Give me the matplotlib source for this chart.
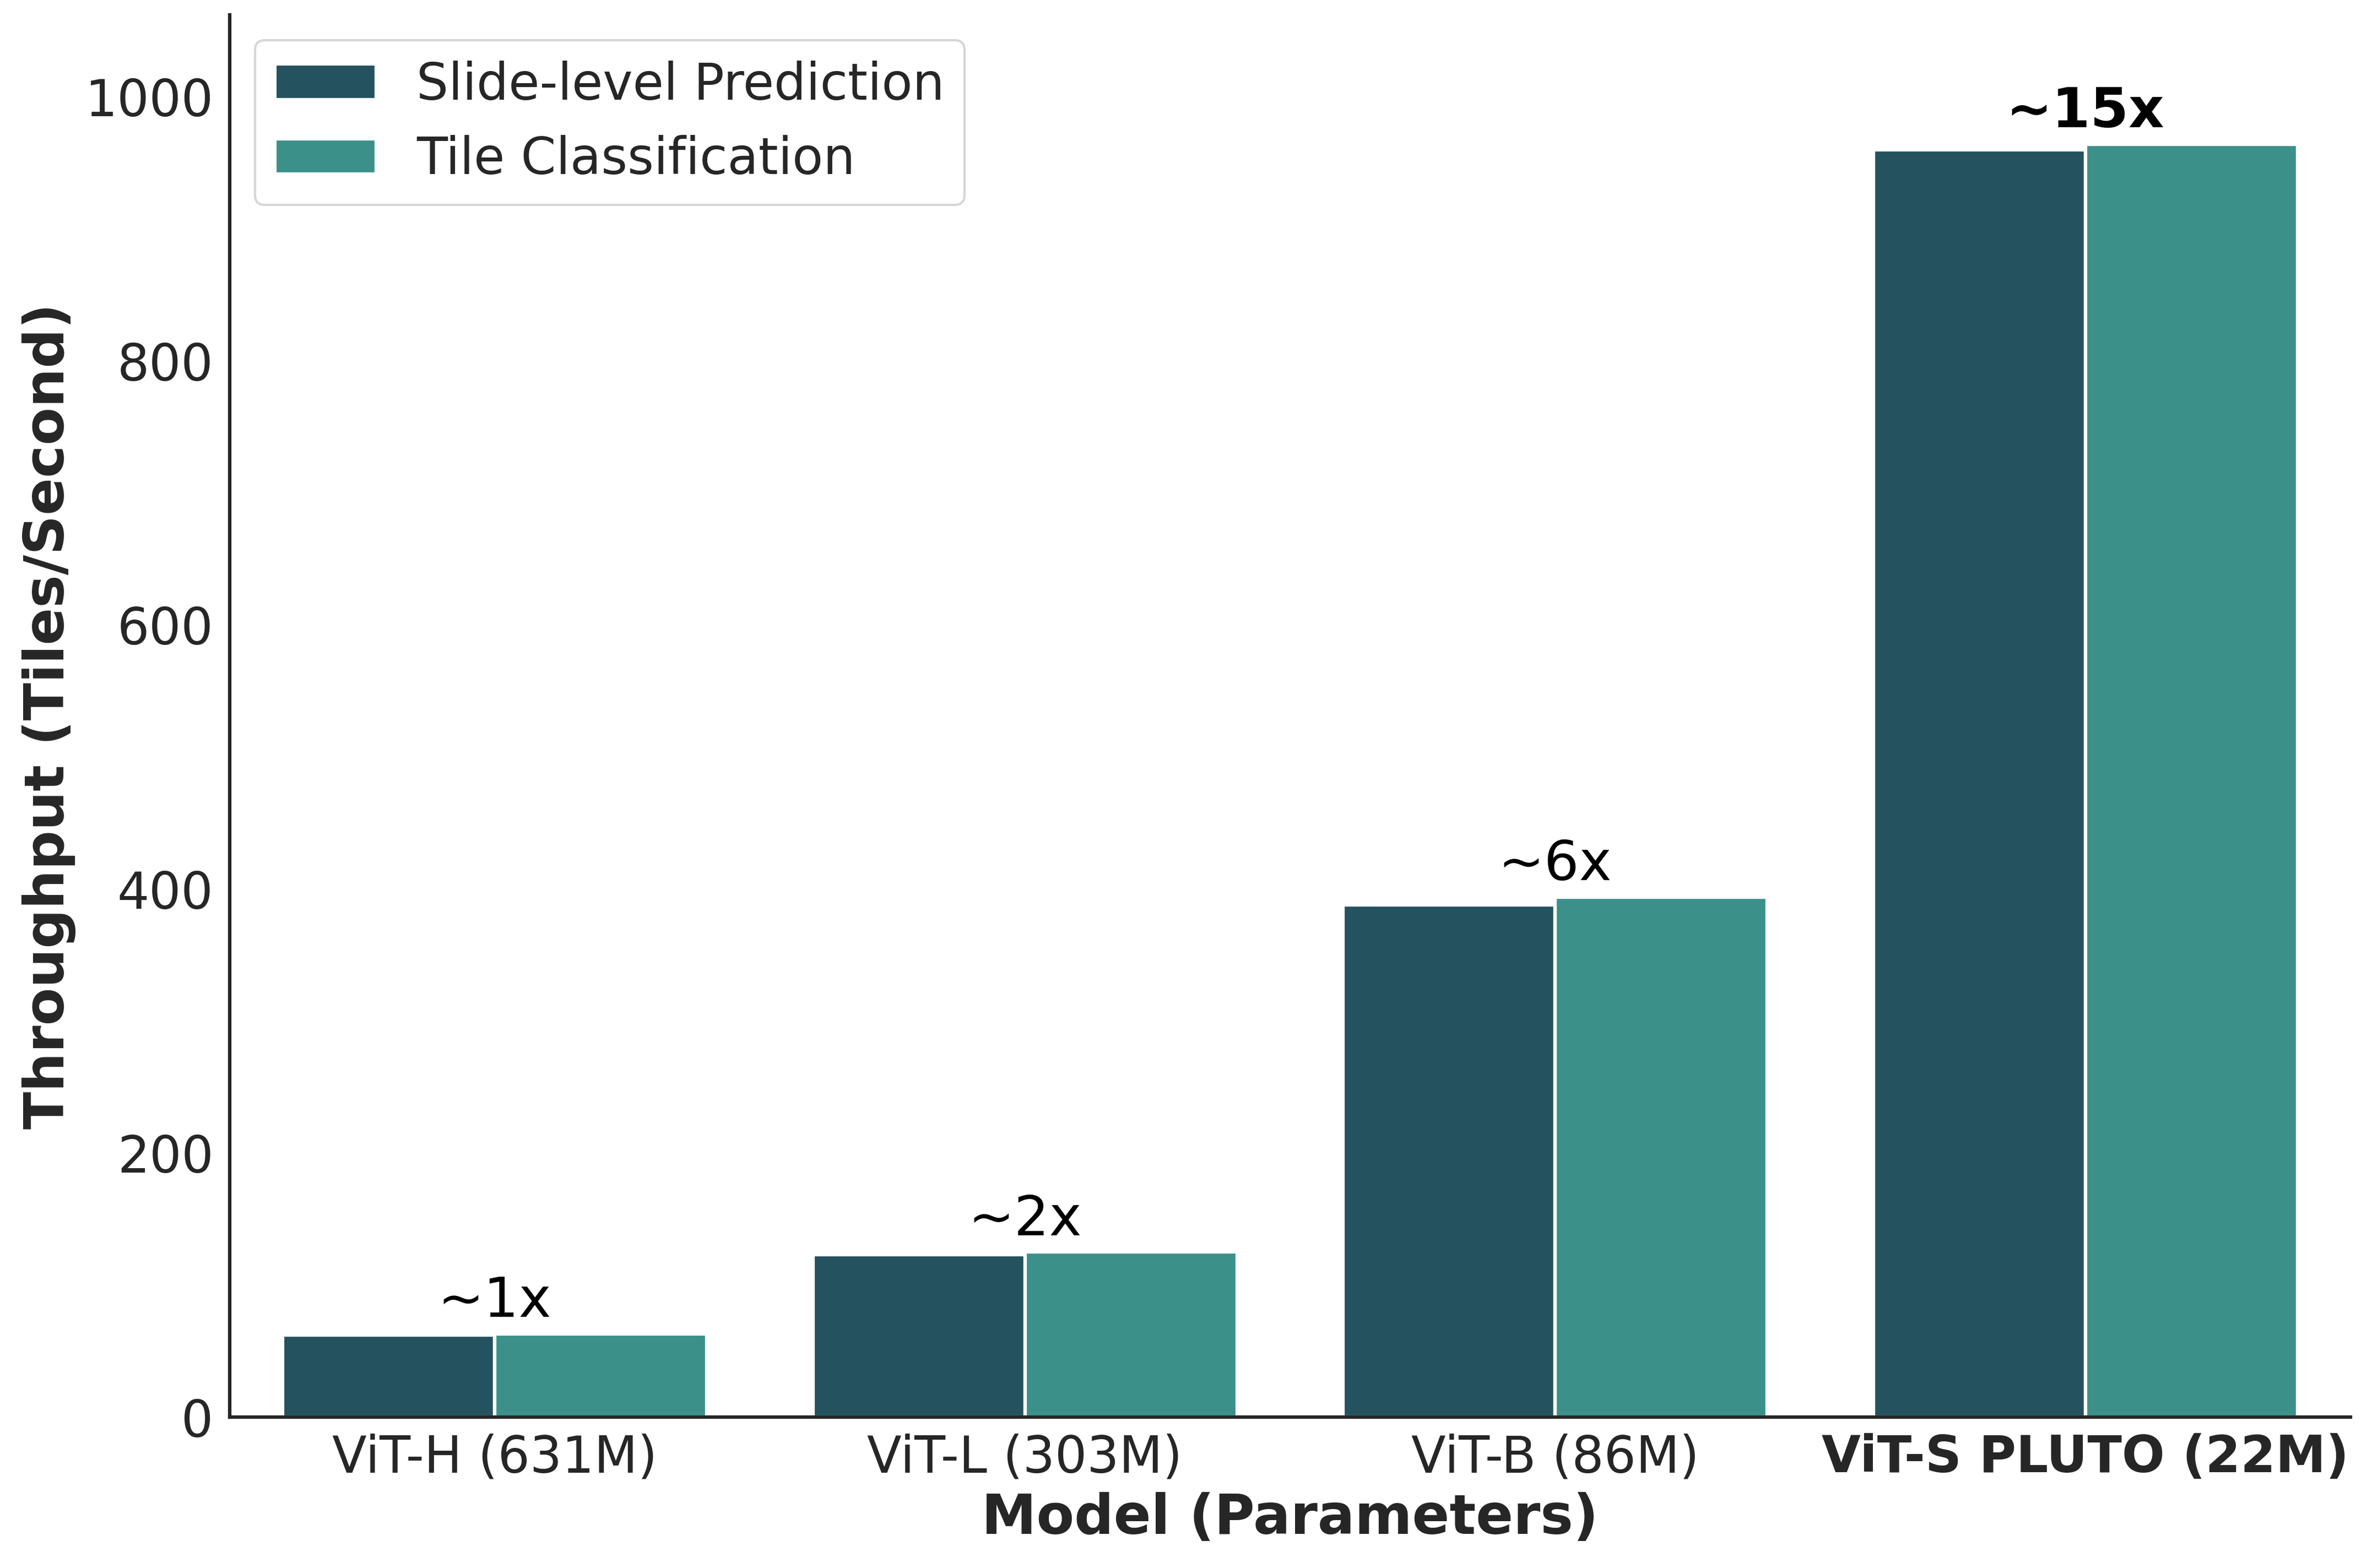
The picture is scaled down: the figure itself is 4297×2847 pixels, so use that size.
import numpy as np
import matplotlib
matplotlib.use("Agg")
import matplotlib.pyplot as plt
import seaborn as sns

# Throughput per model (tiles / second)
models = ["ViT-H (631M)", "ViT-L (303M)", "ViT-B (86M)", "ViT-S PLUTO (22M)"]
slide_level = [62, 123, 388, 960]
tile_class = [63, 125, 394, 964]
speedups = ["~1x", "~2x", "~6x", "~15x"]

sns.set_style("white")
plt.rcParams['font.family'] = ['DejaVu Sans']

fig = plt.figure(figsize=(4297 / 300, 2847 / 300), dpi=300)
ax = fig.add_axes([0.097, 0.0962, 0.896, 0.8943])

x = np.arange(len(models))
w = 0.4
ax.bar(x - w / 2, slide_level, w, color="#24525e", edgecolor="white", linewidth=1.5,
       label="Slide-level Prediction")
ax.bar(x + w / 2, tile_class, w, color="#3b9189", edgecolor="white", linewidth=1.5,
       label="Tile Classification")

# speed-up labels above each group
for i, lab in enumerate(speedups):
    top = max(slide_level[i], tile_class[i])
    bold = i == len(models) - 1
    ax.text(x[i], top + 4, lab, ha="center", va="bottom", fontsize=24,
            color="black", fontweight="bold" if bold else "normal")

ax.set_xlim(-0.5, len(models) - 0.5)
ax.set_ylim(0, 1062)
ax.set_xticks(x)
ax.set_xticklabels(models)
ax.get_xticklabels()[-1].set_fontweight("bold")
ax.tick_params(axis="both", labelsize=22, colors="#262626")
ax.set_xlabel("Model (Parameters)", fontsize=24, fontweight="bold", color="#262626")
ax.set_ylabel("Throughput (Tiles/Second)", fontsize=24, fontweight="bold", color="#262626")
sns.despine(ax=ax)
for s in ["left", "bottom"]:
    ax.spines[s].set_color("#262626")
    ax.spines[s].set_linewidth(1.5)

ax.legend(loc="upper left", fontsize=22)

fig.savefig("out.png", dpi=300)
